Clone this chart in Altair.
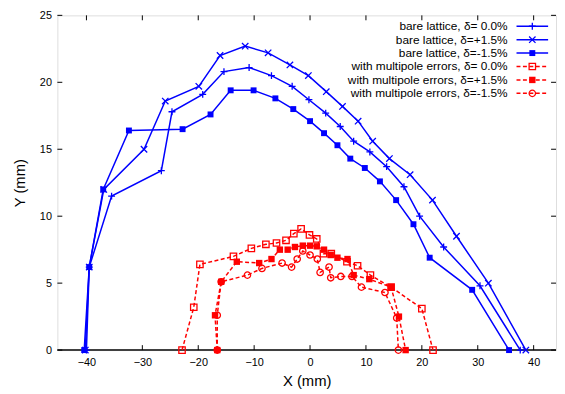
import altair as alt
import pandas as pd

# ---------------- data ----------------
bare0_x = [-40.0, -39.5, -35.5, -26.6, -24.7, -19.2, -15.4, -10.9, -6.9, -3.2, -0.2, 2.8, 5.4, 7.8, 10.7, 13.7, 16.8, 19.6, 23.9, 30.4, 37.6]
bare0_y = [0.0, 6.2, 11.5, 13.4, 17.8, 19.1, 20.8, 21.1, 20.5, 19.7, 18.7, 17.7, 16.7, 15.6, 14.8, 13.7, 12.2, 10.0, 7.7, 4.8, 0.0]

bareP_x = [-40.2, -39.5, -36.9, -29.7, -25.9, -19.9, -16.1, -11.6, -7.5, -3.6, -0.3, 2.9, 5.8, 8.6, 11.2, 14.2, 17.9, 21.9, 26.2, 31.9, 38.6]
bareP_y = [0.0, 6.2, 12.0, 15.0, 18.6, 19.7, 22.0, 22.7, 22.2, 21.3, 20.5, 19.3, 18.2, 17.1, 15.6, 14.3, 13.1, 11.2, 8.5, 5.0, 0.0]

bareM_x = [-40.4, -39.5, -37.0, -32.4, -22.8, -17.8, -14.2, -10.1, -6.2, -3.0, 0.0, 2.5, 4.9, 7.2, 9.8, 12.5, 15.4, 18.5, 21.4, 29.0, 35.6]
bareM_y = [0.0, 6.2, 12.0, 16.4, 16.5, 17.6, 19.4, 19.4, 18.8, 18.0, 17.1, 16.2, 15.3, 14.3, 13.6, 12.6, 11.2, 9.4, 6.9, 4.5, 0.0]

mp0_x = [-22.9, -20.8, -19.7, -13.7, -10.5, -7.9, -6.0, -4.3, -2.9, -1.6, -0.1, 1.2, 2.4, 3.8, 6.6, 8.5, 10.8, 14.5, 20.0, 22.0]
mp0_y = [0.0, 3.2, 6.4, 7.0, 7.6, 7.9, 8.0, 8.2, 8.7, 9.05, 8.6, 8.3, 7.2, 7.2, 6.6, 6.3, 5.6, 4.7, 3.1, 0.0]

mpP_x = [-16.6, -17.0, -15.9, -13.1, -9.1, -6.9, -5.4, -4.0, -2.7, -1.3, 0.0, 1.2, 2.5, 3.7, 4.9, 6.7, 7.8, 10.6, 14.5, 15.9, 17.1]
mpP_y = [0.0, 2.6, 5.1, 6.6, 6.5, 6.8, 7.5, 7.5, 7.7, 7.8, 7.8, 7.75, 7.5, 7.1, 6.9, 6.8, 5.6, 5.3, 4.7, 2.5, 0.0]

mpM_x = [-16.6, -16.6, -15.9, -11.2, -8.6, -5.0, -3.3, -2.3, -1.3, 0.0, 1.3, 1.8, 3.4, 3.7, 5.5, 7.5, 9.2, 13.4, 15.5, 15.8]
mpM_y = [0.0, 2.6, 5.1, 5.6, 6.1, 6.5, 6.2, 6.8, 7.4, 7.1, 6.8, 5.8, 6.2, 5.4, 5.5, 5.5, 4.7, 4.3, 2.4, 0.0]

labels = [
    "bare lattice, δ= 0.0%",
    "bare lattice, δ=+1.5%",
    "bare lattice, δ=-1.5%",
    "with multipole errors, δ= 0.0%",
    "with multipole errors, δ=+1.5%",
    "with multipole errors, δ=-1.5%",
]
x_ticks = [-40, -30, -20, -10, 0, 10, 20, 30, 40]
y_ticks = [0, 5, 10, 15, 20, 25]

# ---------------- styling ----------------
W, H = 505, 339
FONT = "Liberation Sans"
BLUE, RED = "#0000ff", "#ff0000"
PLUS = "M-1,0L1,0M0,-1L0,1"
CROSS = "M-1,-1L1,1M-1,1L1,-1"
DASH = [4, 2.5]

styles = [
    (bare0_x, bare0_y, BLUE, PLUS, False, None, 49),
    (bareP_x, bareP_y, BLUE, CROSS, False, None, 42),
    (bareM_x, bareM_y, BLUE, "square", True, None, 36),
    (mp0_x, mp0_y, RED, "square", False, DASH, 42),
    (mpP_x, mpP_y, RED, "square", True, DASH, 42),
    (mpM_x, mpM_y, RED, "circle", False, DASH, 42),
]

xs = alt.Scale(domain=[-45.2, 44.0], nice=False, zero=False)
ys = alt.Scale(domain=[0, 25], nice=False, zero=False)
xaxis = alt.Axis(values=x_ticks, ticks=False, tickSize=0, domain=False, grid=False,
                 labelFontSize=11, labelColor="black", labelFont=FONT, labelPadding=7,
                 title="X (mm)", titleFont=FONT, titleFontSize=15, titleFontWeight="normal",
                 titleColor="black", titlePadding=6)
yaxis = alt.Axis(values=y_ticks, ticks=False, tickSize=0, domain=False, grid=False,
                 labelFontSize=11, labelColor="black", labelFont=FONT, labelPadding=6,
                 title="Y (mm)", titleFont=FONT, titleFontSize=15, titleFontWeight="normal",
                 titleColor="black", titlePadding=12)
X = lambda: alt.X("x:Q", scale=xs, axis=xaxis)
Y = lambda: alt.Y("y:Q", scale=ys, axis=yaxis)

layers = []

# zero line / thick bottom
layers.append(alt.Chart(pd.DataFrame({"y": [0]})).mark_rule(color="#404040", strokeWidth=2).encode(
    y=Y(), x=alt.value(0), x2=alt.value(W)))

# inward ticks on all four sides
xt = pd.DataFrame({"x": x_ticks})
yt = pd.DataFrame({"y": y_ticks})
layers.append(alt.Chart(xt).mark_rule(color="black", strokeWidth=1).encode(x=X(), y=alt.value(H), y2=alt.value(H - 5)))
layers.append(alt.Chart(xt).mark_rule(color="black", strokeWidth=1).encode(x=X(), y=alt.value(0), y2=alt.value(5)))
layers.append(alt.Chart(yt).mark_rule(color="black", strokeWidth=1).encode(y=Y(), x=alt.value(0), x2=alt.value(5)))
layers.append(alt.Chart(yt).mark_rule(color="black", strokeWidth=1).encode(y=Y(), x=alt.value(W - 5), x2=alt.value(W)))

# data series
for (sx, sy, col, shape, filled, dash, size) in styles:
    df = pd.DataFrame({"x": sx, "y": sy, "i": list(range(len(sx)))})
    lk = dict(color=col, strokeWidth=1.5)
    if dash:
        lk["strokeDash"] = dash
    layers.append(alt.Chart(df).mark_line(**lk).encode(x=X(), y=Y(), order=alt.Order("i:Q")))
    pk = dict(shape=shape, filled=filled, size=size, color=col, opacity=1, strokeWidth=1.3)
    layers.append(alt.Chart(df).mark_point(**pk).encode(x=X(), y=Y()))

# legend (top right, inside plot)
for k, (lab, st) in enumerate(zip(labels, styles)):
    ly = 11 + 13.6 * k
    _, _, col, shape, filled, dash, size = st
    d = pd.DataFrame({"label": [lab]})
    layers.append(alt.Chart(d).mark_text(align="right", baseline="middle", font=FONT, fontSize=12, color="black").encode(
        text="label:N", x=alt.value(456), y=alt.value(ly)))
    rk = dict(color=col, strokeWidth=1.5)
    if dash:
        rk["strokeDash"] = dash
    layers.append(alt.Chart(d).mark_rule(**rk).encode(x=alt.value(465), x2=alt.value(497), y=alt.value(ly)))
    layers.append(alt.Chart(d).mark_point(shape=shape, filled=filled, size=size, color=col, opacity=1, strokeWidth=1.3).encode(
        x=alt.value(481), y=alt.value(ly)))

chart = alt.layer(*layers).properties(
    width=W, height=H,
    autosize=alt.AutoSizeParams(type="none"),
    padding={"left": 50, "top": 5, "right": 1, "bottom": 40},
).configure_view(stroke="black", strokeWidth=1).configure(background="white")

chart.save("out.html", embed_options={"renderer": "svg", "actions": False})
